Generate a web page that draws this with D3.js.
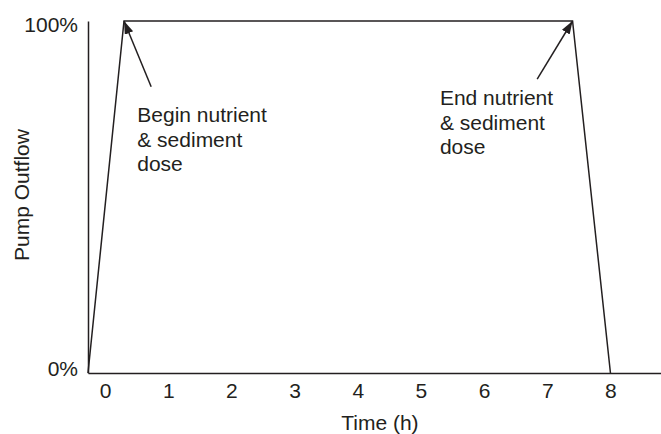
<!DOCTYPE html>
<html>
<head>
<meta charset="utf-8">
<script src="https://cdn.jsdelivr.net/npm/d3@7"></script>
<style>
  body { margin: 0; background: #fff; }
  svg { font-family: "Liberation Sans", Arial, sans-serif; }
  text { fill: #231f20; }
</style>
</head>
<body>
<svg width="661" height="434"></svg>
<script>
      // pump schedule
      const times = [-0.27, 0.3, 7.4, 8];
      const outflow = [0, 100, 100, 0];
      const xTicks = [0, 1, 2, 3, 4, 5, 6, 7, 8];
      const yTicks = [0, 100];

      // annotations: tail of arrow (t, %), tip (t, %), text anchor (t, %)
      const notes = [
        { lines: ['Begin nutrient', '& sediment', 'dose'], tail: [0.73, 81.3], tip: [0.3, 100], at: [0.51, 71.2] },
        { lines: ['End nutrient', '& sediment', 'dose'], tail: [6.84, 83.5], tip: [7.4, 100], at: [5.30, 76.1] }
      ];

      const xLabel = 'Time (h)';
      const yLabel = 'Pump Outflow';
      const margin = { left: 88, right: 0, top: 21, bottom: 61 };
      const ink = '#231f20';
      const fontSize = 21;

      const svg = d3.select('svg');
      const width = +svg.attr('width');
      const height = +svg.attr('height');
      const innerWidth = width - margin.left - margin.right;
      const innerHeight = height - margin.top - margin.bottom;

      const g = svg.append('g')
          .attr('transform', `translate(${margin.left},${margin.top})`)
          .attr('font-size', fontSize);

      const xScale = d3.scaleLinear()
        .domain([-0.27, 8.8])
        .range([0, innerWidth]);
      const yScale = d3.scaleLinear()
        .domain([0, 100])
        .range([innerHeight, 0]);

      const xAxis = d3.axisBottom(xScale)
        .tickValues(xTicks)
        .tickFormat(d3.format('d'))
        .tickSize(0)
        .tickPadding(10);
      const yAxis = d3.axisLeft(yScale)
        .tickValues(yTicks)
        .tickFormat(d => d + '%')
        .tickSize(0)
        .tickPadding(10);

      const xAxisG = g.append('g')
          .attr('transform', `translate(0, ${innerHeight})`)
          .call(xAxis);
      const yAxisG = g.append('g').call(yAxis);

      [xAxisG, yAxisG].forEach(a => {
        a.attr('font-size', fontSize).attr('font-family', null);
        a.select('.domain').attr('stroke', ink).attr('stroke-width', 1.5);
        a.selectAll('text').style('fill', ink);
      });
      yAxisG.selectAll('.tick text').attr('dy', d => d ? '0.5em' : '0.14em');

      xAxisG.append('text')
          .attr('x', xScale(4.35))
          .attr('y', 57)
          .attr('text-anchor', 'middle')
          .text(xLabel);

      svg.append('text')
          .attr('transform', 'rotate(-90)')
          .attr('x', -195)
          .attr('y', 28.5)
          .attr('text-anchor', 'middle')
          .attr('font-size', fontSize)
          .text(yLabel);

      const data = times.map((t, i) => ({ t, v: outflow[i] }));
      const line = d3.line()
        .x(d => xScale(d.t))
        .y(d => yScale(d.v));

      g.append('path')
          .datum(data)
          .attr('d', line)
          .attr('fill', 'none')
          .attr('stroke', ink)
          .attr('stroke-width', 1.5)
          .attr('stroke-linejoin', 'miter');

      svg.append('defs').append('marker')
          .attr('id', 'head')
          .attr('markerUnits', 'userSpaceOnUse')
          .attr('markerWidth', 14)
          .attr('markerHeight', 10)
          .attr('refX', 13)
          .attr('refY', 4.5)
          .attr('orient', 'auto')
        .append('path')
          .attr('d', 'M0,0L13,4.5L0,9Z')
          .attr('fill', ink);

      g.selectAll('.arrow').data(notes)
        .enter().append('line')
          .attr('class', 'arrow')
          .attr('x1', d => xScale(d.tail[0]))
          .attr('y1', d => yScale(d.tail[1]))
          .attr('x2', d => xScale(d.tip[0]))
          .attr('y2', d => yScale(d.tip[1]))
          .attr('stroke', ink)
          .attr('stroke-width', 1.5)
          .attr('marker-end', 'url(#head)');

      const labels = g.selectAll('.note').data(notes)
        .enter().append('text')
          .attr('class', 'note')
          .attr('x', d => xScale(d.at[0]))
          .attr('y', d => yScale(d.at[1]));
      labels.selectAll('tspan').data(d => d.lines.map(s => ({ s, x: xScale(d.at[0]) })))
        .enter().append('tspan')
          .attr('x', d => d.x)
          .attr('dy', (d, i) => i ? 24.5 : 0)
          .text(d => d.s);
</script>
</body>
</html>
